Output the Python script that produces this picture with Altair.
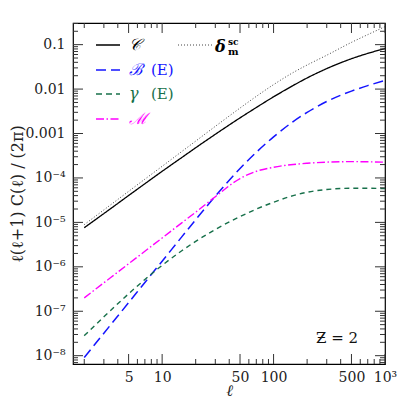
import math
import altair as alt
import pandas as pd

# ---- data ----
ell = [2, 3, 5, 7, 10, 15, 20, 30, 50, 70, 100, 150, 200, 300, 500, 700, 1000]
C_vals = [7.6e-6, 1.58e-5, 4.02e-5, 7.41e-5, 1.41e-4, 2.88e-4, 4.78e-4, 9.6e-4, 2.25e-3, 3.85e-3,
          6.7e-3, 0.01205, 0.0178, 0.0289, 0.0482, 0.0635, 0.0815]
delta_vals = [8.9e-6, 1.91e-5, 4.99e-5, 9.4e-5, 1.83e-4, 3.93e-4, 6.75e-4, 1.45e-3, 3.74e-3, 6.86e-3,
              0.0126, 0.0236, 0.0348, 0.0578, 0.1125, 0.168, 0.254]
B_vals = [9.1e-9, 3.21e-8, 1.56e-7, 4.44e-7, 1.34e-6, 4.72e-6, 1.15e-5, 3.89e-5, 1.63e-4, 3.78e-4,
          8.4e-4, 1.86e-3, 2.99e-3, 5.26e-3, 8.99e-3, 0.01197, 0.0156]
gamma_vals = [2.82e-8, 7.5e-8, 2.47e-7, 5.18e-7, 1.08e-6, 2.30e-6, 3.74e-6, 6.93e-6, 1.35e-5, 1.99e-5,
              2.84e-5, 4.01e-5, 4.76e-5, 5.50e-5, 5.85e-5, 5.85e-5, 5.74e-5]
M_vals = [2.0e-7, 4.37e-7, 1.17e-6, 2.24e-6, 4.46e-6, 9.75e-6, 1.70e-5, 3.78e-5, 9.7e-5, 1.41e-4,
          1.74e-4, 2.01e-4, 2.14e-4, 2.27e-4, 2.33e-4, 2.31e-4, 2.26e-4]

x_domain = [1.585, 1000]
y_domain = [6.5e-9, 0.307]
x_tick_values = [5, 10, 50, 100, 500, 1000]
x_tick_labels = ["5", "10", "50", "100", "500", "10³"]
x_minor = [2, 3, 4, 6, 7, 8, 9, 20, 30, 40, 60, 70, 80, 90, 200, 300, 400, 600, 700, 800, 900]
y_tick_values = [1e-8, 1e-7, 1e-6, 1e-5, 1e-4, 1e-3, 1e-2, 1e-1]
y_tick_labels = ["10⁻⁸", "10⁻⁷", "10⁻⁶", "10⁻⁵", "10⁻⁴", "0.001", "0.01", "0.1"]
y_minor = [7e-9, 8e-9, 9e-9] + [k * 10.0 ** e for e in range(-8, -1) for k in range(2, 10)] + [0.2, 0.3]

series_names = ["C", "delta", "B", "gamma", "M"]
series_colors = ["#000000", "#444444", "#1414ff", "#17704a", "#ff00ff"]
series_dash = [[1, 0], [1, 2], [10, 5], [5, 4], [8, 2.5, 1.5, 2.5]]
series_width = [1.3, 1.0, 1.5, 1.4, 1.4]

W, H = 312, 341
FONT = "DejaVu Serif"

xscale = alt.Scale(type="log", domain=x_domain, nice=False)
yscale = alt.Scale(type="log", domain=y_domain, nice=False)

rows = []
for name, vals in zip(series_names, [C_vals, delta_vals, B_vals, gamma_vals, M_vals]):
    for l, v in zip(ell, vals):
        rows.append({"l": l, "v": v, "s": name})
df = pd.DataFrame(rows)


def lab_expr(vals, labs):
    expr = "''"
    for v, t in zip(vals, labs):
        expr = f"abs(log(datum.value)/log(10) - ({math.log10(v)})) < 0.01 ? '{t}' : " + expr
    return expr


xaxis = alt.Axis(values=x_tick_values, labelExpr=lab_expr(x_tick_values, x_tick_labels),
                 title="ℓ", tickSize=0, domain=False, grid=False, labelPadding=6,
                 labelFont=FONT, labelFontSize=14, labelColor="#222", labelFlush=False,
                 titleFont=FONT, titleFontSize=16, titleFontStyle="italic", titleColor="#222",
                 titleFontWeight="normal", titleY=26, titleBaseline="middle")
yaxis = alt.Axis(values=y_tick_values, labelExpr=lab_expr(y_tick_values, y_tick_labels),
                 title="ℓ(ℓ+1) C(ℓ) / (2π)", tickSize=0, domain=False, grid=False,
                 labelPadding=8, labelFont=FONT, labelFontSize=14, labelColor="#222",
                 labelFlush=False, titleFont=FONT, titleFontSize=16, titleFontWeight="normal",
                 titleX=-56, titleBaseline="middle", titleColor="#222")

layers = []
for i, name in enumerate(series_names):
    layers.append(
        alt.Chart(df).transform_filter(alt.datum.s == name)
        .mark_line(color=series_colors[i], strokeDash=series_dash[i], strokeWidth=series_width[i],
                   interpolate="monotone", clip=True)
        .encode(x=alt.X("l:Q", scale=xscale, axis=xaxis),
                y=alt.Y("v:Q", scale=yscale, axis=yaxis))
    )

# ticks inside the frame
xmaj = pd.DataFrame({"l": x_tick_values})
xmin = pd.DataFrame({"l": x_minor})
ymaj = pd.DataFrame({"v": y_tick_values})
ymin = pd.DataFrame({"v": [v for v in y_minor if y_domain[0] <= v <= y_domain[1]]})


def xticks(d, ln):
    out = []
    for y0, y1 in [(H, H - ln), (0, ln)]:
        out.append(alt.Chart(d).mark_rule(color="#333", strokeWidth=1).encode(
            x=alt.X("l:Q", scale=xscale, axis=xaxis), y=alt.value(y0), y2=alt.value(y1)))
    return out


def yticks(d, ln):
    out = []
    for x0, x1 in [(0, ln), (W, W - ln)]:
        out.append(alt.Chart(d).mark_rule(color="#333", strokeWidth=1).encode(
            y=alt.Y("v:Q", scale=yscale, axis=yaxis), x=alt.value(x0), x2=alt.value(x1)))
    return out


tick_layers = xticks(xmaj, 10) + xticks(xmin, 5) + yticks(ymaj, 10) + yticks(ymin, 5)

one = pd.DataFrame({"a": [0]})
leg = []
legend_items = [
    ("𝒞", "", "#000000", [1, 0], 1.3, 22),
    ("ℬ", "(E)", "#1414ff", [10, 5], 1.5, 47),
    ("γ", "(E)", "#17704a", [6, 4], 1.4, 71),
    ("ℳ", "", "#ff00ff", [8, 2.5, 1.5, 2.5], 1.4, 96),
]
for sym, extra, col, dash, sw, yy in legend_items:
    leg.append(alt.Chart(one).mark_rule(color=col, strokeDash=dash, strokeWidth=sw).encode(
        x=alt.value(23), x2=alt.value(47), y=alt.value(yy)))
    leg.append(alt.Chart(one).mark_text(align="left", baseline="middle", font=FONT, fontSize=16,
                                        color=col, fontStyle="italic").encode(
        x=alt.value(56), y=alt.value(yy), text=alt.value(sym)))
    if extra:
        leg.append(alt.Chart(one).mark_text(align="left", baseline="middle", font=FONT, fontSize=15,
                                            color=col).encode(
            x=alt.value(78), y=alt.value(yy), text=alt.value(extra)))
leg.append(alt.Chart(one).mark_rule(color="#444", strokeDash=[1, 2], strokeWidth=1).encode(
    x=alt.value(105), x2=alt.value(140), y=alt.value(22)))
leg.append(alt.Chart(one).mark_text(align="left", baseline="middle", font=FONT, fontSize=16,
                                    fontStyle="italic", fontWeight="bold", color="#000").encode(
    x=alt.value(142), y=alt.value(24), text=alt.value("δ")))
leg.append(alt.Chart(one).mark_text(align="left", baseline="middle", font=FONT, fontSize=9,
                                    fontWeight="bold", color="#000").encode(
    x=alt.value(155), y=alt.value(19), text=alt.value("sc")))
leg.append(alt.Chart(one).mark_text(align="left", baseline="middle", font=FONT, fontSize=10,
                                    fontWeight="bold", color="#000").encode(
    x=alt.value(155), y=alt.value(29), text=alt.value("m")))
leg.append(alt.Chart(one).mark_text(align="center", baseline="middle", font=FONT, fontSize=15,
                                    color="#111").encode(
    x=alt.value(264), y=alt.value(315), text=alt.value("Ƶ = 2")))

chart = alt.layer(*layers, *tick_layers, *leg).properties(
    width=W, height=H,
    autosize=alt.AutoSizeParams(type="none"),
    padding={"left": 65, "top": 15, "right": 14, "bottom": 40},
).configure_view(stroke="#000", strokeWidth=1.2).configure_axis(labelFont=FONT)

chart.save("out.html", embed_options={"renderer": "svg", "actions": False})
